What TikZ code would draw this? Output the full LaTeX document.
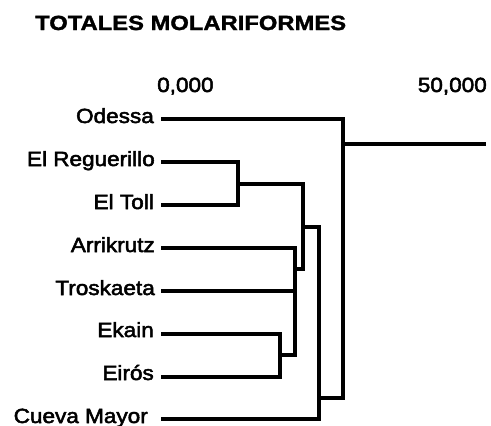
\documentclass[tikz,border=0pt]{standalone}
\usepackage{fontspec}
\setmainfont{Liberation Sans}
\newfontfamily\labfont[FakeStretch=1.1,FakeBold=2.5]{Liberation Sans}
\newfontfamily\titfont[FakeStretch=1.16,FakeBold=1.6]{Liberation Sans}
\begin{document}
\begin{tikzpicture}[x=1pt,y=-1pt,
  lab/.style={font=\labfont\fontsize{20.5}{22}\selectfont, inner sep=0pt, anchor=base east},
  axlab/.style={font=\labfont\fontsize{20.5}{22}\selectfont, inner sep=0pt},
  titl/.style={font=\titfont\bfseries\fontsize{20.5}{22}\selectfont, inner sep=0pt, anchor=base west},
  link/.style={line width=3.3pt, line join=miter, line cap=butt}]
\useasboundingbox (0,0) rectangle (491,426);
% title and axis
\node[titl] (title) at (35,30) {TOTALES MOLARIFORMES};
\node[axlab, anchor=base west] (ax0) at (157,92) {0,000};
\node[axlab, anchor=base east] (ax50) at (487,92) {50,000};
% leaf labels
\node[lab] (nOd) at (154,123) {Odessa};
\node[lab] (nRg) at (155,166) {El Reguerillo};
\node[lab] (nTl) at (154,209) {El Toll};
\node[lab] (nAr) at (155,252) {Arrikrutz};
\node[lab] (nTr) at (155,295) {Troskaeta};
\node[lab] (nEk) at (154,337) {Ekain};
\node[lab] (nEi) at (154,380) {Eirós};
\node[lab] (nCM) at (148,423) {Cueva Mayor};
% leaf line starts
\coordinate (Od) at (161,119);
\coordinate (Rg) at (161,162);
\coordinate (Tl) at (161,205);
\coordinate (Ar) at (161,248);
\coordinate (Tr) at (161,291);
\coordinate (Ek) at (161,334);
\coordinate (Ei) at (161,377);
\coordinate (CM) at (161,419);
% joins
\coordinate (j1) at (238,184);
\coordinate (j2) at (280,355);
\coordinate (j3) at (295,269);
\coordinate (j4) at (303,227);
\coordinate (j5) at (319,398);
\coordinate (j6) at (343,144);
\coordinate (root) at (486,144);
% dendrogram
\draw[link] (Rg) -| (j1) |- (Tl);
\draw[link] (Ek) -| (j2) |- (Ei);
\draw[link] (Ar) -| (j3) |- (j2);
\draw[link] (Tr) -- (Tr -| j3);
\draw[link] (j1) -| (j4) |- (j3);
\draw[link] (j4) -| (j5) |- (CM);
\draw[link] (Od) -| (j6) |- (j5);
\draw[link] (j6) -- (root);
\end{tikzpicture}
\end{document}
